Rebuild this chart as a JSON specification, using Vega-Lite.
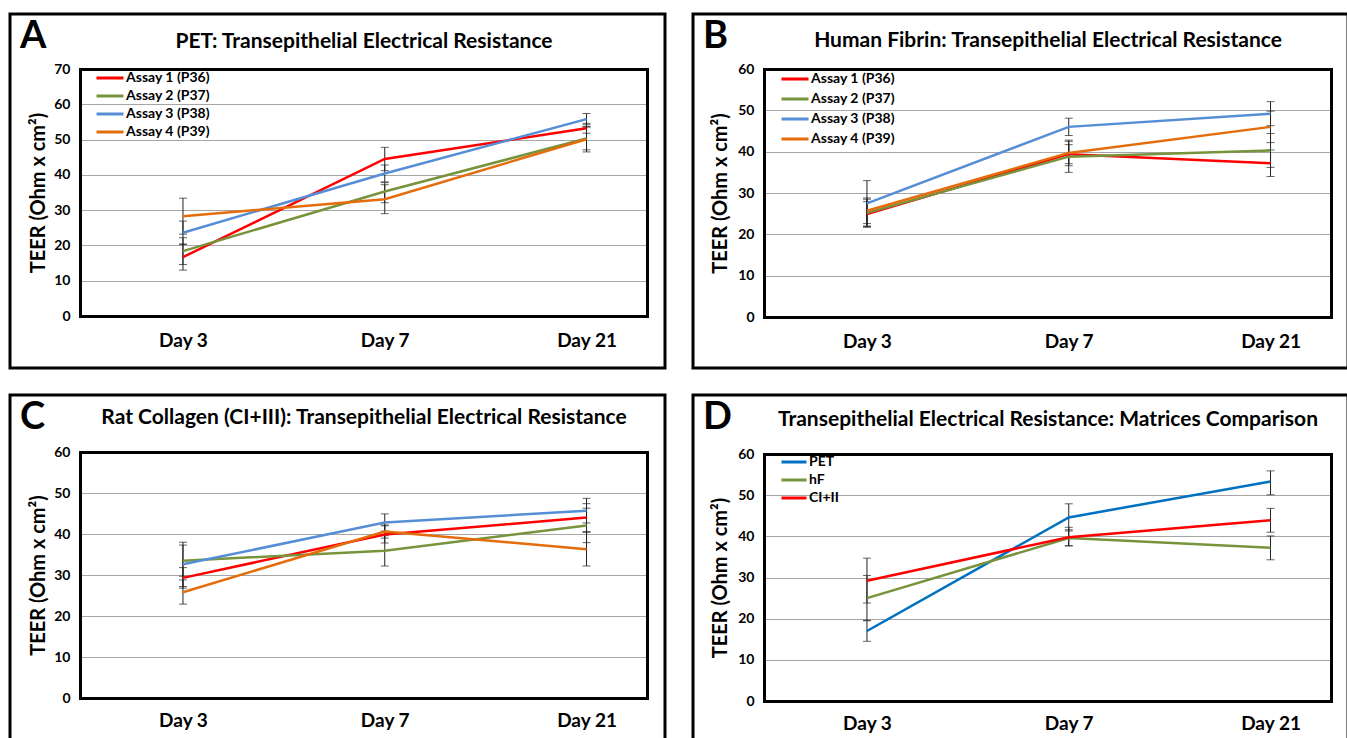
{
  "$schema": "https://vega.github.io/schema/vega-lite/v6.json",
  "background": "white",
  "padding": {"left": 8, "top": 12, "right": 0, "bottom": 0},
  "config": {
    "view": {"stroke": "black", "strokeWidth": 3, "fill": "white"},
    "font": "Lato",
    "axis": {"labelFont": "Lato", "titleFont": "Lato", "labelFontWeight": "bold", "titleFontWeight": "bold", "labelColor": "black", "titleColor": "black", "domainCap": "square"},
    "legend": {"labelFont": "Lato", "labelFontWeight": "bold", "labelColor": "black"},
    "title": {"font": "Lato", "fontWeight": "bold", "color": "black"}
  },
  "spacing": 23,
  "resolve": {"scale": {"color": "independent"}},
  "vconcat": [
    {
      "spacing": 24,
      "resolve": {"scale": {"color": "independent"}},
      "hconcat": [
        {
          "width": 655, "height": 354,
          "title": {"text": "A", "anchor": "start", "frame": "group", "offset": -42, "dx": 10, "fontSize": 38},
          "data": {"values": [
            {"day": "Day 3", "series": "Assay 1 (P36)", "teer": 16.7, "lo": 13.0, "hi": 20.4},
            {"day": "Day 7", "series": "Assay 1 (P36)", "teer": 44.5, "lo": 41.2, "hi": 47.8},
            {"day": "Day 21", "series": "Assay 1 (P36)", "teer": 53.2, "lo": 51.8, "hi": 54.6},
            {"day": "Day 3", "series": "Assay 2 (P37)", "teer": 18.4, "lo": 14.6, "hi": 22.2},
            {"day": "Day 7", "series": "Assay 2 (P37)", "teer": 35.3, "lo": 32.1, "hi": 37.8},
            {"day": "Day 21", "series": "Assay 2 (P37)", "teer": 50.3, "lo": 47.1, "hi": 53.5},
            {"day": "Day 3", "series": "Assay 3 (P38)", "teer": 23.6, "lo": 20.3, "hi": 26.9},
            {"day": "Day 7", "series": "Assay 3 (P38)", "teer": 40.4, "lo": 38.0, "hi": 42.8},
            {"day": "Day 21", "series": "Assay 3 (P38)", "teer": 55.8, "lo": 54.2, "hi": 57.4},
            {"day": "Day 3", "series": "Assay 4 (P39)", "teer": 28.3, "lo": 23.2, "hi": 33.4},
            {"day": "Day 7", "series": "Assay 4 (P39)", "teer": 33.1, "lo": 29.0, "hi": 37.2},
            {"day": "Day 21", "series": "Assay 4 (P39)", "teer": 50.1, "lo": 46.5, "hi": 53.7}
          ]},
          "resolve": {"axis": {"x": "independent", "y": "independent"}},
          "layer": [
            {
              "mark": {"type": "line", "opacity": 0},
              "encoding": {
                "x": {"field": "day", "type": "ordinal", "scale": {"type": "point", "domain": ["Day 3", "Day 7", "Day 21"], "range": [70, 637], "padding": 0.405, "align": 0.63},
                  "axis": {"orient": "top", "offset": -55, "labels": false, "ticks": false, "grid": false, "domainColor": "black", "domainWidth": 3, "title": "PET: Transepithelial Electrical Resistance", "titleFontSize": 21, "titlePadding": 18}},
                "y": {"field": "teer", "type": "quantitative", "scale": {"domain": [0, 70], "range": [302, 55], "nice": false, "zero": false},
                  "axis": {"orient": "right", "offset": -18, "labels": false, "ticks": false, "grid": false, "domainColor": "black", "domainWidth": 3, "title": null}}
              }
            },
            {
              "mark": {"type": "rule", "color": "#222222", "strokeWidth": 1},
              "encoding": {
                "x": {"field": "day", "type": "ordinal", "scale": {"type": "point", "domain": ["Day 3", "Day 7", "Day 21"], "range": [70, 637], "padding": 0.405, "align": 0.63},
                  "axis": {"orient": "bottom", "offset": -52, "ticks": false, "labelAngle": 0, "labelFontSize": 19, "labelPadding": 15, "grid": false, "domainColor": "black", "domainWidth": 3, "title": null}},
                "y": {"field": "lo", "type": "quantitative", "scale": {"domain": [0, 70], "range": [302, 55], "nice": false, "zero": false},
                  "axis": {"orient": "left", "offset": -70, "ticks": false, "values": [0, 10, 20, 30, 40, 50, 60, 70], "labelFontSize": 14, "labelPadding": 10, "grid": true, "gridColor": "#A6A6A6", "gridWidth": 1, "domainColor": "black", "domainWidth": 3, "title": "TEER (Ohm x cm²)", "titleFontSize": 20, "titlePadding": 5}},
                "y2": {"field": "hi"}
              }
            },
            {
              "mark": {"type": "tick", "orient": "horizontal", "size": 8, "thickness": 1, "color": "#222222"},
              "encoding": {"x": {"field": "day", "type": "ordinal", "axis": null}, "y": {"field": "lo", "type": "quantitative", "axis": null}}
            },
            {
              "mark": {"type": "tick", "orient": "horizontal", "size": 8, "thickness": 1, "color": "#222222"},
              "encoding": {"x": {"field": "day", "type": "ordinal", "axis": null}, "y": {"field": "hi", "type": "quantitative", "axis": null}}
            },
            {
              "mark": {"type": "line", "strokeWidth": 2.5},
              "encoding": {
                "x": {"field": "day", "type": "ordinal", "axis": null},
                "y": {"field": "teer", "type": "quantitative", "axis": null},
                "color": {"field": "series", "type": "nominal",
                  "scale": {"domain": ["Assay 1 (P36)", "Assay 2 (P37)", "Assay 3 (P38)", "Assay 4 (P39)"], "range": ["#FF0000", "#77933C", "#558ED5", "#E46C0A"]},
                  "legend": {"orient": "none", "legendX": 85, "legendY": 57, "title": null, "padding": 0, "symbolType": "stroke", "symbolSize": 729, "symbolStrokeWidth": 3, "labelFontSize": 14, "labelOffset": 1, "rowPadding": 4, "clipHeight": 14}}
              }
            }
          ]
        },
        {
          "width": 655, "height": 354,
          "title": {"text": "B", "anchor": "start", "frame": "group", "offset": -42, "dx": 10, "fontSize": 38},
          "data": {"values": [
            {"day": "Day 3", "series": "Assay 1 (P36)", "teer": 24.9, "lo": 21.7, "hi": 27.9},
            {"day": "Day 7", "series": "Assay 1 (P36)", "teer": 39.4, "lo": 37.1, "hi": 41.7},
            {"day": "Day 21", "series": "Assay 1 (P36)", "teer": 37.2, "lo": 34.0, "hi": 40.4},
            {"day": "Day 3", "series": "Assay 2 (P37)", "teer": 25.2, "lo": 21.9, "hi": 28.5},
            {"day": "Day 7", "series": "Assay 2 (P37)", "teer": 38.8, "lo": 35.0, "hi": 42.5},
            {"day": "Day 21", "series": "Assay 2 (P37)", "teer": 40.3, "lo": 36.2, "hi": 44.4},
            {"day": "Day 3", "series": "Assay 3 (P38)", "teer": 27.5, "lo": 22.0, "hi": 33.0},
            {"day": "Day 7", "series": "Assay 3 (P38)", "teer": 46.0, "lo": 43.9, "hi": 48.1},
            {"day": "Day 21", "series": "Assay 3 (P38)", "teer": 49.2, "lo": 46.3, "hi": 52.1},
            {"day": "Day 3", "series": "Assay 4 (P39)", "teer": 25.7, "lo": 22.6, "hi": 28.8},
            {"day": "Day 7", "series": "Assay 4 (P39)", "teer": 39.7, "lo": 36.6, "hi": 42.8},
            {"day": "Day 21", "series": "Assay 4 (P39)", "teer": 46.0, "lo": 42.2, "hi": 49.8}
          ]},
          "resolve": {"axis": {"x": "independent", "y": "independent"}},
          "layer": [
            {
              "mark": {"type": "line", "opacity": 0},
              "encoding": {
                "x": {"field": "day", "type": "ordinal", "scale": {"type": "point", "domain": ["Day 3", "Day 7", "Day 21"], "range": [71, 638], "padding": 0.405, "align": 0.63},
                  "axis": {"orient": "top", "offset": -55, "labels": false, "ticks": false, "grid": false, "domainColor": "black", "domainWidth": 3, "title": "Human Fibrin: Transepithelial Electrical Resistance", "titleFontSize": 21, "titlePadding": 19}},
                "y": {"field": "teer", "type": "quantitative", "scale": {"domain": [0, 60], "range": [303, 55], "nice": false, "zero": false},
                  "axis": {"orient": "right", "offset": -17, "labels": false, "ticks": false, "grid": false, "domainColor": "black", "domainWidth": 3, "title": null}}
              }
            },
            {
              "mark": {"type": "rule", "color": "#222222", "strokeWidth": 1},
              "encoding": {
                "x": {"field": "day", "type": "ordinal", "scale": {"type": "point", "domain": ["Day 3", "Day 7", "Day 21"], "range": [71, 638], "padding": 0.405, "align": 0.63},
                  "axis": {"orient": "bottom", "offset": -51, "ticks": false, "labelAngle": 0, "labelFontSize": 19, "labelPadding": 15, "grid": false, "domainColor": "black", "domainWidth": 3, "title": null}},
                "y": {"field": "lo", "type": "quantitative", "scale": {"domain": [0, 60], "range": [303, 55], "nice": false, "zero": false},
                  "axis": {"orient": "left", "offset": -71, "ticks": false, "values": [0, 10, 20, 30, 40, 50, 60], "labelFontSize": 14, "labelPadding": 10, "grid": true, "gridColor": "#A6A6A6", "gridWidth": 1, "domainColor": "black", "domainWidth": 3, "title": "TEER (Ohm x cm²)", "titleFontSize": 20, "titlePadding": 7}},
                "y2": {"field": "hi"}
              }
            },
            {
              "mark": {"type": "tick", "orient": "horizontal", "size": 8, "thickness": 1, "color": "#222222"},
              "encoding": {"x": {"field": "day", "type": "ordinal", "axis": null}, "y": {"field": "lo", "type": "quantitative", "axis": null}}
            },
            {
              "mark": {"type": "tick", "orient": "horizontal", "size": 8, "thickness": 1, "color": "#222222"},
              "encoding": {"x": {"field": "day", "type": "ordinal", "axis": null}, "y": {"field": "hi", "type": "quantitative", "axis": null}}
            },
            {
              "mark": {"type": "line", "strokeWidth": 2.5},
              "encoding": {
                "x": {"field": "day", "type": "ordinal", "axis": null},
                "y": {"field": "teer", "type": "quantitative", "axis": null},
                "color": {"field": "series", "type": "nominal",
                  "scale": {"domain": ["Assay 1 (P36)", "Assay 2 (P37)", "Assay 3 (P38)", "Assay 4 (P39)"], "range": ["#FF0000", "#77933C", "#558ED5", "#E46C0A"]},
                  "legend": {"orient": "none", "legendX": 87, "legendY": 58, "title": null, "padding": 0, "symbolType": "stroke", "symbolSize": 729, "symbolStrokeWidth": 3, "labelFontSize": 14, "labelOffset": 1, "rowPadding": 6, "clipHeight": 14}}
              }
            }
          ]
        }
      ]
    },
    {
      "spacing": 24,
      "resolve": {"scale": {"color": "independent"}},
      "hconcat": [
        {
          "width": 655, "height": 354,
          "title": {"text": "C", "anchor": "start", "frame": "group", "offset": -42, "dx": 10, "fontSize": 38},
          "data": {"values": [
            {"day": "Day 3", "series": "Assay 1 (P36)", "teer": 29.3, "lo": 26.8, "hi": 31.8},
            {"day": "Day 7", "series": "Assay 1 (P36)", "teer": 39.9, "lo": 37.8, "hi": 42.0},
            {"day": "Day 21", "series": "Assay 1 (P36)", "teer": 44.0, "lo": 40.6, "hi": 47.4},
            {"day": "Day 3", "series": "Assay 2 (P37)", "teer": 33.5, "lo": 29.7, "hi": 37.3},
            {"day": "Day 7", "series": "Assay 2 (P37)", "teer": 35.9, "lo": 32.2, "hi": 39.6},
            {"day": "Day 21", "series": "Assay 2 (P37)", "teer": 42.1, "lo": 37.9, "hi": 46.3},
            {"day": "Day 3", "series": "Assay 3 (P38)", "teer": 32.6, "lo": 27.2, "hi": 38.0},
            {"day": "Day 7", "series": "Assay 3 (P38)", "teer": 42.8, "lo": 40.7, "hi": 44.9},
            {"day": "Day 21", "series": "Assay 3 (P38)", "teer": 45.7, "lo": 42.7, "hi": 48.7},
            {"day": "Day 3", "series": "Assay 4 (P39)", "teer": 25.8, "lo": 22.9, "hi": 28.8},
            {"day": "Day 7", "series": "Assay 4 (P39)", "teer": 40.6, "lo": 39.0, "hi": 42.2},
            {"day": "Day 21", "series": "Assay 4 (P39)", "teer": 36.3, "lo": 32.2, "hi": 40.4}
          ]},
          "resolve": {"axis": {"x": "independent", "y": "independent"}},
          "layer": [
            {
              "mark": {"type": "line", "opacity": 0},
              "encoding": {
                "x": {"field": "day", "type": "ordinal", "scale": {"type": "point", "domain": ["Day 3", "Day 7", "Day 21"], "range": [70, 637], "padding": 0.405, "align": 0.63},
                  "axis": {"orient": "top", "offset": -57, "labels": false, "ticks": false, "grid": false, "domainColor": "black", "domainWidth": 3, "title": "Rat Collagen (CI+III): Transepithelial Electrical Resistance", "titleFontSize": 21, "titlePadding": 25}},
                "y": {"field": "teer", "type": "quantitative", "scale": {"domain": [0, 60], "range": [303, 57], "nice": false, "zero": false},
                  "axis": {"orient": "right", "offset": -18, "labels": false, "ticks": false, "grid": false, "domainColor": "black", "domainWidth": 3, "title": null}}
              }
            },
            {
              "mark": {"type": "rule", "color": "#222222", "strokeWidth": 1},
              "encoding": {
                "x": {"field": "day", "type": "ordinal", "scale": {"type": "point", "domain": ["Day 3", "Day 7", "Day 21"], "range": [70, 637], "padding": 0.405, "align": 0.63},
                  "axis": {"orient": "bottom", "offset": -51, "ticks": false, "labelAngle": 0, "labelFontSize": 19, "labelPadding": 13, "grid": false, "domainColor": "black", "domainWidth": 3, "title": null}},
                "y": {"field": "lo", "type": "quantitative", "scale": {"domain": [0, 60], "range": [303, 57], "nice": false, "zero": false},
                  "axis": {"orient": "left", "offset": -70, "ticks": false, "values": [0, 10, 20, 30, 40, 50, 60], "labelFontSize": 14, "labelPadding": 10, "grid": true, "gridColor": "#A6A6A6", "gridWidth": 1, "domainColor": "black", "domainWidth": 3, "title": "TEER (Ohm x cm²)", "titleFontSize": 20, "titlePadding": 5}},
                "y2": {"field": "hi"}
              }
            },
            {
              "mark": {"type": "tick", "orient": "horizontal", "size": 8, "thickness": 1, "color": "#222222"},
              "encoding": {"x": {"field": "day", "type": "ordinal", "axis": null}, "y": {"field": "lo", "type": "quantitative", "axis": null}}
            },
            {
              "mark": {"type": "tick", "orient": "horizontal", "size": 8, "thickness": 1, "color": "#222222"},
              "encoding": {"x": {"field": "day", "type": "ordinal", "axis": null}, "y": {"field": "hi", "type": "quantitative", "axis": null}}
            },
            {
              "mark": {"type": "line", "strokeWidth": 2.5},
              "encoding": {
                "x": {"field": "day", "type": "ordinal", "axis": null},
                "y": {"field": "teer", "type": "quantitative", "axis": null},
                "color": {"field": "series", "type": "nominal",
                  "scale": {"domain": ["Assay 1 (P36)", "Assay 2 (P37)", "Assay 3 (P38)", "Assay 4 (P39)"], "range": ["#FF0000", "#77933C", "#558ED5", "#E46C0A"]},
                  "legend": null}
              }
            }
          ]
        },
        {
          "width": 655, "height": 354,
          "title": {"text": "D", "anchor": "start", "frame": "group", "offset": -42, "dx": 10, "fontSize": 38},
          "data": {"values": [
            {"day": "Day 3", "series": "PET", "teer": 17.0, "lo": 14.5, "hi": 19.5},
            {"day": "Day 7", "series": "PET", "teer": 44.6, "lo": 41.3, "hi": 47.9},
            {"day": "Day 21", "series": "PET", "teer": 53.3, "lo": 50.1, "hi": 55.9},
            {"day": "Day 3", "series": "hF", "teer": 25.0, "lo": 19.6, "hi": 30.5},
            {"day": "Day 7", "series": "hF", "teer": 39.6, "lo": 37.7, "hi": 41.6},
            {"day": "Day 21", "series": "hF", "teer": 37.2, "lo": 34.3, "hi": 40.1},
            {"day": "Day 3", "series": "CI+II", "teer": 29.2, "lo": 23.8, "hi": 34.7},
            {"day": "Day 7", "series": "CI+II", "teer": 39.8, "lo": 37.7, "hi": 42.2},
            {"day": "Day 21", "series": "CI+II", "teer": 43.9, "lo": 41.0, "hi": 46.8}
          ]},
          "resolve": {"axis": {"x": "independent", "y": "independent"}},
          "layer": [
            {
              "mark": {"type": "line", "opacity": 0},
              "encoding": {
                "x": {"field": "day", "type": "ordinal", "scale": {"type": "point", "domain": ["Day 3", "Day 7", "Day 21"], "range": [71, 638], "padding": 0.405, "align": 0.63},
                  "axis": {"orient": "top", "offset": -59, "labels": false, "ticks": false, "grid": false, "domainColor": "black", "domainWidth": 3, "title": "Transepithelial Electrical Resistance: Matrices Comparison", "titleFontSize": 21, "titlePadding": 25}},
                "y": {"field": "teer", "type": "quantitative", "scale": {"domain": [0, 60], "range": [306, 59], "nice": false, "zero": false},
                  "axis": {"orient": "right", "offset": -17, "labels": false, "ticks": false, "grid": false, "domainColor": "black", "domainWidth": 3, "title": null}}
              }
            },
            {
              "mark": {"type": "rule", "color": "#222222", "strokeWidth": 1},
              "encoding": {
                "x": {"field": "day", "type": "ordinal", "scale": {"type": "point", "domain": ["Day 3", "Day 7", "Day 21"], "range": [71, 638], "padding": 0.405, "align": 0.63},
                  "axis": {"orient": "bottom", "offset": -48, "ticks": false, "labelAngle": 0, "labelFontSize": 19, "labelPadding": 13, "grid": false, "domainColor": "black", "domainWidth": 3, "title": null}},
                "y": {"field": "lo", "type": "quantitative", "scale": {"domain": [0, 60], "range": [306, 59], "nice": false, "zero": false},
                  "axis": {"orient": "left", "offset": -71, "ticks": false, "values": [0, 10, 20, 30, 40, 50, 60], "labelFontSize": 14, "labelPadding": 10, "grid": true, "gridColor": "#A6A6A6", "gridWidth": 1, "domainColor": "black", "domainWidth": 3, "title": "TEER (Ohm x cm²)", "titleFontSize": 20, "titlePadding": 7}},
                "y2": {"field": "hi"}
              }
            },
            {
              "mark": {"type": "tick", "orient": "horizontal", "size": 8, "thickness": 1, "color": "#222222"},
              "encoding": {"x": {"field": "day", "type": "ordinal", "axis": null}, "y": {"field": "lo", "type": "quantitative", "axis": null}}
            },
            {
              "mark": {"type": "tick", "orient": "horizontal", "size": 8, "thickness": 1, "color": "#222222"},
              "encoding": {"x": {"field": "day", "type": "ordinal", "axis": null}, "y": {"field": "hi", "type": "quantitative", "axis": null}}
            },
            {
              "mark": {"type": "line", "strokeWidth": 2.5},
              "encoding": {
                "x": {"field": "day", "type": "ordinal", "axis": null},
                "y": {"field": "teer", "type": "quantitative", "axis": null},
                "color": {"field": "series", "type": "nominal",
                  "scale": {"domain": ["PET", "hF", "CI+II"], "range": ["#0070C0", "#77933C", "#FF0000"]},
                  "legend": {"orient": "none", "legendX": 87, "legendY": 60, "title": null, "padding": 0, "symbolType": "stroke", "symbolSize": 625, "symbolStrokeWidth": 3, "labelFontSize": 14, "labelOffset": 1, "rowPadding": 4, "clipHeight": 14}}
              }
            }
          ]
        }
      ]
    }
  ]
}
